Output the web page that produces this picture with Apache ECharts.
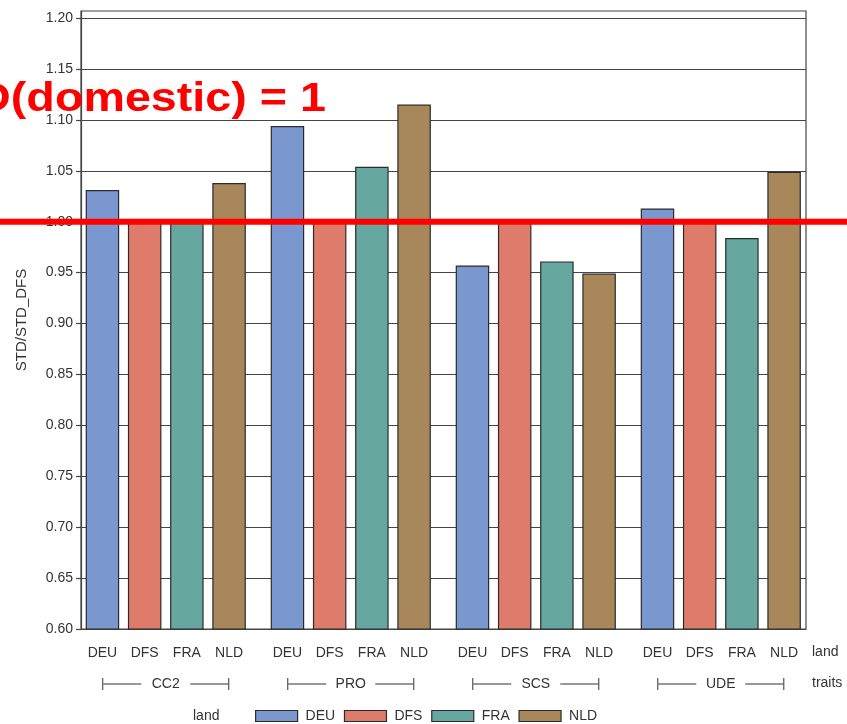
<!DOCTYPE html>
<html>
<head>
<meta charset="utf-8">
<title>STD/STD_DFS by traits and land</title>
<script src="https://cdn.jsdelivr.net/npm/echarts@6/dist/echarts.min.js"></script>
<style>
  html, body { margin: 0; padding: 0; background: #ffffff; }
  #chart { width: 847px; height: 724px; }
</style>
</head>
<body>
<div id="chart"></div>
<script>
// Trait groups along the x axis and the countries (land) inside each group
const traits = ['CC2', 'PRO', 'SCS', 'UDE'];
const lands = ['DEU', 'DFS', 'FRA', 'NLD'];

// STD relative to STD_DFS, one array per land, ordered as traits
const valuesDEU = [1.031, 1.094, 0.957, 1.013];
const valuesDFS = [1.000, 1.000, 1.000, 1.000];
const valuesFRA = [1.000, 1.054, 0.961, 0.984];
const valuesNLD = [1.038, 1.115, 0.949, 1.049];

// Y axis ticks
const yTicks = [0.60, 0.65, 0.70, 0.75, 0.80, 0.85, 0.90, 0.95, 1.00, 1.05, 1.10, 1.15, 1.20];

// Reference level: domestic standard deviation
const refValue = 1;
const refLabel = 'STD(domestic) = 1';

const landColors = ['#7b97cf', '#de7b6b', '#66a89f', '#a8875a'];
const seriesValues = [valuesDEU, valuesDFS, valuesFRA, valuesNLD];

const yMin = 0.60;
const yMax = 1.2069;
const textColor = '#333333';
const lineColor = '#454545';
const font = '"Liberation Sans", Arial, sans-serif';

const chart = echarts.init(document.getElementById('chart'), null, { renderer: 'canvas' });

const series = lands.map((land, i) => ({
  name: land,
  type: 'bar',
  xAxisIndex: 1,
  yAxisIndex: 1,
  data: seriesValues[i],
  barWidth: 33.5,
  barGap: '26%',
  itemStyle: { color: landColors[i], borderColor: '#2b2b2b', borderWidth: 1.2 },
  label: {
    show: true,
    position: 'bottom',
    distance: 17,
    formatter: '{a}',
    fontSize: 14,
    fontFamily: font,
    color: textColor
  },
  emphasis: { disabled: true },
  animation: false
}));

const option = {
  animation: false,
  backgroundColor: '#ffffff',
  grid: [
    { left: 81, right: 41, top: 11, bottom: 95, show: true, borderColor: lineColor, borderWidth: 1.2, backgroundColor: 'transparent' },
    { left: 73.25, right: 33.7, top: 11, bottom: 95 }
  ],
  xAxis: [
    {
      gridIndex: 0, type: 'category', data: traits,
      axisLine: { show: true, lineStyle: { color: lineColor, width: 1.2 } },
      axisTick: { show: false }, axisLabel: { show: false }, splitLine: { show: false }
    },
    {
      gridIndex: 1, type: 'category', data: traits,
      axisLine: { show: false }, axisTick: { show: false }, splitLine: { show: false },
      axisLabel: {
        interval: 0,
        margin: 47,
        formatter: v => `{tk|}{ln|}{nm|${v}}{ln|}{tk|}`,
        rich: {
          tk: { width: 1, height: 12, backgroundColor: textColor, verticalAlign: 'middle' },
          ln: { width: 38, height: 1, backgroundColor: textColor, verticalAlign: 'middle' },
          nm: { width: 49, align: 'center', fontSize: 14, fontFamily: font, color: textColor, lineHeight: 16, verticalAlign: 'middle' }
        }
      }
    }
  ],
  yAxis: [
    {
      gridIndex: 0, type: 'value', min: yMin, max: yMax, interval: 0.05,
      name: 'STD/STD_DFS', nameLocation: 'middle', nameGap: 52,
      nameTextStyle: { fontSize: 15, fontFamily: font, color: textColor },
      axisLine: { show: true, lineStyle: { color: lineColor, width: 1.2 } },
      axisTick: { show: true, length: 5, customValues: yTicks, lineStyle: { color: lineColor, width: 1.2 } },
      axisLabel: {
        customValues: yTicks, margin: 8, fontSize: 14, fontFamily: font, color: textColor,
        formatter: v => v.toFixed(2)
      },
      splitLine: { show: true, lineStyle: { color: lineColor, width: 1.2 } }
    },
    { gridIndex: 1, type: 'value', min: yMin, max: yMax, show: false, splitLine: { show: false } }
  ],
  legend: {
    data: lands,
    left: 250,
    top: 704,
    icon: 'rect',
    itemWidth: 42,
    itemHeight: 11,
    itemGap: 8.7,
    itemStyle: { borderColor: '#2b2b2b', borderWidth: 1.2 },
    textStyle: { fontSize: 14, fontFamily: font, color: textColor, width: 52, padding: [0, 0, 0, 3] },
    selectedMode: false
  },
  series: series
};

chart.setOption(option);

// Overlay: reference line at refValue across the full width, its caption, and side titles
const refY = chart.convertToPixel({ yAxisIndex: 0 }, refValue);
chart.setOption({
  graphic: [
    { type: 'text', left: 812, top: 645, style: { text: 'land', fontSize: 14, fontFamily: font, fill: textColor } },
    { type: 'text', left: 812, top: 676, style: { text: 'traits', fontSize: 14, fontFamily: font, fill: textColor } },
    { type: 'text', left: 193, top: 709, style: { text: 'land', fontSize: 14, fontFamily: font, fill: textColor } },
    {
      type: 'line', z: 100,
      shape: { x1: 0, y1: refY, x2: 847, y2: refY },
      style: { stroke: '#ff0000', lineWidth: 6 }
    },
    {
      type: 'text', z: 100, x: 326, y: 100, scaleX: 1.167,
      style: {
        x: 0, y: 0,
        text: refLabel, fill: '#ff0000',
        font: 'bold 40px "Liberation Sans", Arial, sans-serif',
        align: 'right', verticalAlign: 'middle'
      }
    }
  ]
});
</script>
</body>
</html>
